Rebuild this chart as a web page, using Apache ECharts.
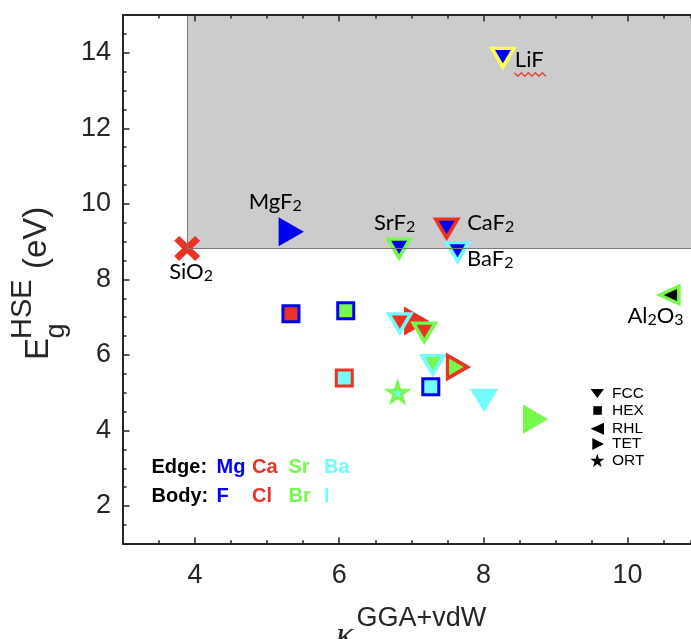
<!DOCTYPE html>
<html>
<head>
<meta charset="utf-8">
<script src="https://cdn.jsdelivr.net/npm/echarts@6/dist/echarts.min.js"></script>
<style>
  html, body { margin: 0; padding: 0; background: #ffffff; overflow: hidden; }
  #chart { width: 691px; height: 639px; }
</style>
</head>
<body>
<div id="chart"></div>
<script>
// HSE band gap against the GGA+vdW dielectric constant of metal halides.
// Marker edge colour = cation, marker body colour = anion, shape = crystal structure.

const compounds  = ['SiO2', 'MgF2', 'CaF2', 'BaF2', 'SrF2', 'LiF', 'Al2O3',
                    'MgCl2', 'MgBr2', 'CaI2', 'CaCl2', 'BaCl2', 'SrCl2',
                    'BaBr2', 'CaBr2', 'SrI2', 'MgI2', 'BaI2', 'SrBr2'];
const kappaGGA   = [3.89, 5.32, 7.49, 7.64, 6.83, 8.27, 10.58,
                    5.33, 6.09, 6.07, 7.06, 6.84, 7.18,
                    7.30, 7.64, 6.81, 7.27, 8.01, 8.71];
const egHSE      = [8.82, 9.26, 9.35, 8.73, 8.82, 13.87, 7.59,
                    7.09, 7.17, 5.39, 6.90, 6.84, 6.60,
                    5.74, 5.68, 5.01, 5.16, 4.82, 4.30];
const structures = ['ref', 'TET', 'FCC', 'FCC', 'FCC', 'FCC', 'RHL',
                    'HEX', 'HEX', 'HEX', 'TET', 'FCC', 'FCC',
                    'FCC', 'TET', 'ORT', 'HEX', 'FCC', 'TET'];
const cations    = ['Si', 'Mg', 'Ca', 'Ba', 'Sr', 'Li', 'Al',
                    'Mg', 'Mg', 'Ca', 'Ca', 'Ba', 'Sr',
                    'Ba', 'Ca', 'Sr', 'Mg', 'Ba', 'Sr'];
const anions     = ['O', 'F', 'F', 'F', 'F', 'F', 'O',
                    'Cl', 'Br', 'I', 'Cl', 'Cl', 'Cl',
                    'Br', 'Br', 'I', 'I', 'I', 'Br'];

const xTickLabels = [4, 6, 8, 10];
const yTickLabels = [2, 4, 6, 8, 10, 12, 14];
const legendStructures = ['FCC', 'HEX', 'RHL', 'TET', 'ORT'];
const edgeKey = ['Mg', 'Ca', 'Sr', 'Ba'];
const bodyKey = ['F', 'Cl', 'Br', 'I'];

// Rich-text names for the labelled compounds
const nameText = {
  SiO2: '{m|SiO}{s|2}', MgF2: '{m|MgF}{s|2}', SrF2: '{m|SrF}{s|2}',
  CaF2: '{m|CaF}{s|2}', BaF2: '{m|BaF}{s|2}', LiF: '{m|LiF}',
  Al2O3: '{m|Al}{s|2}{m|O}{s|3}'
};

// ---- styling ----
const AX = '#262626';
const SANS = 'Liberation Sans, Arial, Helvetica, sans-serif';
const BLUE = '#0000F5', RED = '#EB3323', GREEN = '#75F94D', CYAN = '#73FBFD', YELLOW = '#FFFF54';
const EDGE_COLOR = { Mg: BLUE, Ca: RED, Sr: GREEN, Ba: CYAN, Li: YELLOW, Al: GREEN, Si: RED };
const BODY_COLOR = { F: BLUE, Cl: RED, Br: GREEN, I: CYAN, O: '#000000' };

const STAR_PATH = 'path://M100,0 L122.45,69.1 L195.1,69.1 L136.3,111.8 L158.8,180.9 L100,138.2 L41.2,180.9 L63.7,111.8 L4.9,69.1 L77.55,69.1 Z';
const CROSS_PATH = 'path://M0,5 L5,0 L13,8 L21,0 L26,5 L18,13 L26,21 L21,26 L13,18 L5,26 L0,21 L8,13 Z';

const SHAPE = {
  FCC: { symbol: 'triangle', rotate: 180, size: [22, 18.5], border: 3.5 },
  TET: { symbol: 'triangle', rotate: -90, size: [23, 20], border: 3.5 },
  RHL: { symbol: 'triangle', rotate: 90, size: [17.5, 19], border: 3.5 },
  HEX: { symbol: 'rect', rotate: 0, size: 16, border: 3 },
  ORT: { symbol: STAR_PATH, rotate: 0, size: [19, 18.5], border: 3 },
  ref: { symbol: CROSS_PATH, rotate: 0, size: [26, 25], border: 0 }
};

// label placement relative to the marker centre: [dx, dy]
const LABEL_PLACE = {
  SiO2: [-18, 23], MgF2: [-41.5, -29.5], SrF2: [-25, -26],
  CaF2: [20.5, -5.5], BaF2: [9.5, 7], LiF: [12, 2.5], Al2O3: [-42, 21]
};

// the plot box is cut by the right edge of the canvas
const XMIN = 3, XMAX = 10.88, YMIN = 1, YMAX = 15;
const sio2 = compounds.indexOf('SiO2');
const corner = [kappaGGA[sio2], egHSE[sio2]];

const pointData = compounds.map((name, i) => {
  const sh = SHAPE[structures[i]];
  const edge = EDGE_COLOR[cations[i]];
  const body = structures[i] === 'ref' ? edge : BODY_COLOR[anions[i]];
  const item = {
    name: name,
    value: [kappaGGA[i], egHSE[i]],
    symbol: sh.symbol,
    symbolSize: sh.size,
    symbolRotate: sh.rotate,
    itemStyle: { color: body, borderColor: edge, borderWidth: sh.border, borderJoin: 'miter', opacity: 1 }
  };
  if (nameText[name]) {
    const p = LABEL_PLACE[name];
    item.label = {
      show: true, position: 'inside', align: 'left', verticalAlign: 'middle',
      offset: [p[0], p[1]], formatter: nameText[name]
    };
  }
  return item;
});

const labelRich = {
  m: { fontFamily: 'Lato, Liberation Sans, sans-serif', fontSize: 22, lineHeight: 24, color: '#000000' },
  s: { fontFamily: 'Lato, Liberation Sans, sans-serif', fontSize: 16, lineHeight: 10, verticalAlign: 'bottom', color: '#000000' }
};

function valueAxis(extra) {
  return Object.assign({
    type: 'value', z: 5, splitLine: { show: false }, axisPointer: { show: false }
  }, extra);
}
const minorTick = { show: true, inside: true, length: 3.5, lineStyle: { color: AX, width: 1.5 } };
const majorTick = (vals) => ({ show: true, inside: true, length: 6.5, customValues: vals, lineStyle: { color: AX, width: 1.5 } });
const tickFont = { fontSize: 27, color: AX, fontFamily: SANS };

const option = {
  animation: false,
  backgroundColor: '#ffffff',
  grid: { left: 123, top: 15, right: 0, bottom: 95.2, containLabel: false },
  xAxis: [
    valueAxis({ position: 'bottom', min: XMIN, max: XMAX, interval: 0.5,
      axisLine: { show: true, lineStyle: { color: AX, width: 2 } }, axisTick: minorTick,
      axisLabel: Object.assign({ customValues: xTickLabels, margin: 18 }, tickFont) }),
    valueAxis({ position: 'bottom', min: XMIN, max: XMAX, interval: 0.5,
      axisLine: { show: false }, axisTick: majorTick(xTickLabels), axisLabel: { show: false } }),
    valueAxis({ position: 'top', min: XMIN, max: XMAX, interval: 0.5,
      axisLine: { show: true, lineStyle: { color: AX, width: 2 } }, axisTick: minorTick, axisLabel: { show: false } }),
    valueAxis({ position: 'top', min: XMIN, max: XMAX, interval: 0.5,
      axisLine: { show: false }, axisTick: majorTick(xTickLabels), axisLabel: { show: false } })
  ],
  yAxis: [
    valueAxis({ position: 'left', min: YMIN, max: YMAX, interval: 0.5,
      axisLine: { show: true, lineStyle: { color: AX, width: 2 } }, axisTick: minorTick,
      axisLabel: Object.assign({ customValues: yTickLabels, margin: 12 }, tickFont) }),
    valueAxis({ position: 'left', min: YMIN, max: YMAX, interval: 0.5,
      axisLine: { show: false }, axisTick: majorTick(yTickLabels), axisLabel: { show: false } })
  ],
  series: [
    {
      // region beyond the SiO2 reference (higher kappa and larger gap)
      type: 'scatter', name: 'region', data: [], z: 1, silent: true,
      markArea: {
        silent: true,
        itemStyle: { color: '#cccccc', borderWidth: 0 },
        label: { show: false },
        data: [[{ coord: corner }, { coord: [XMAX, YMAX] }]]
      },
      markLine: {
        silent: true, symbol: 'none', animation: false,
        lineStyle: { color: '#7a7a7a', width: 1, type: 'solid' },
        label: { show: false },
        data: [
          [{ coord: corner }, { coord: [XMAX, corner[1]] }],
          [{ coord: corner }, { coord: [corner[0], YMAX] }]
        ]
      }
    },
    {
      type: 'scatter', name: 'compounds', z: 3, data: pointData,
      label: { rich: labelRich },
      emphasis: { disabled: true }
    }
  ]
};

// ---- on-plot annotations ----
const graphics = [];
function addText(x, y, text, size, color, opts) {
  graphics.push(Object.assign({
    type: 'text', x: x, y: y, z: 10, silent: true,
    style: Object.assign({
      text: text, fontSize: size, fontFamily: SANS, fill: color,
      align: 'left', verticalAlign: 'middle', textAlign: 'left', textVerticalAlign: 'middle'
    }, (opts && opts.style) || {})
  }, (opts && opts.el) || {}));
}

// y axis title: E_g^HSE (eV), rotated
const R = { el: { rotation: Math.PI / 2 } };
addText(38.6, 360, 'E', 33, AX, R);
addText(23.3, 339, 'HSE', 29, AX, R);
addText(56.3, 338.5, 'g', 27, AX, R);
addText(37, 269, '(eV)', 33, AX, R);

// x axis title: kappa^(GGA+vdW)
addText(336, 637, 'κ', 36, AX, { style: { fontFamily: 'Liberation Serif, DejaVu Serif, serif', fontStyle: 'italic' } });
addText(356.5, 618.2, 'GGA+vdW', 27, AX);

// edge / body colour key
const keyCols = [216.5, 252, 288.5, 324];
const bold = { style: { fontWeight: 'bold' } };
addText(151.5, 467, 'Edge:', 20, '#000000', bold);
addText(151.5, 496.7, 'Body:', 20, '#000000', bold);
edgeKey.forEach((c, i) => addText(keyCols[i], 467, c, 20, EDGE_COLOR[c], bold));
bodyKey.forEach((a, i) => addText(keyCols[i], 496.7, a, 20, BODY_COLOR[a], bold));

// structure key
const keyRows = [393.5, 410.5, 428.8, 444, 460.5];
const kx = 597.3;
legendStructures.forEach((s, i) => {
  const y = keyRows[i];
  let shape;
  if (s === 'FCC') shape = { type: 'polygon', shape: { points: [[kx - 6.7, y - 4.5], [kx + 6.7, y - 4.5], [kx, y + 4.5]] } };
  else if (s === 'HEX') shape = { type: 'rect', shape: { x: kx - 4, y: y - 4.3, width: 8.6, height: 8.6 } };
  else if (s === 'RHL') shape = { type: 'polygon', shape: { points: [[kx + 6.7, y - 6], [kx + 6.7, y + 6], [kx - 6.7, y]] } };
  else if (s === 'TET') shape = { type: 'polygon', shape: { points: [[kx - 5, y - 6], [kx - 5, y + 6], [kx + 6.7, y]] } };
  else {
    const pts = [];
    for (let k = 0; k < 10; k++) {
      const r = k % 2 === 0 ? 7.3 : 2.9;
      const a = -Math.PI / 2 + k * Math.PI / 5;
      pts.push([kx + r * Math.cos(a), y + 0.6 + r * Math.sin(a)]);
    }
    shape = { type: 'polygon', shape: { points: pts } };
  }
  shape.style = { fill: '#000000' };
  shape.z = 10; shape.silent = true;
  graphics.push(shape);
  addText(612, y, s, 15.5, '#000000');
});

option.graphic = { elements: graphics };

const chart = echarts.init(document.getElementById('chart'), null, { renderer: 'canvas' });
chart.setOption(option);

// wavy proofing underline under the LiF name
const li = compounds.indexOf('LiF');
const lp = chart.convertToPixel({ seriesIndex: 1 }, [kappaGGA[li], egHSE[li]]);
const wave = [];
for (let k = 0; k <= 9; k++) wave.push([lp[0] + 11.5 + k * 3.5, lp[1] + (k % 2 === 0 ? 15 : 18.5)]);
graphics.push({ type: 'polyline', z: 10, silent: true, shape: { points: wave },
  style: { stroke: '#E0453A', lineWidth: 1.4, fill: null } });
chart.setOption({ graphic: { elements: graphics } }, { replaceMerge: ['graphic'] });
</script>
</body>
</html>
